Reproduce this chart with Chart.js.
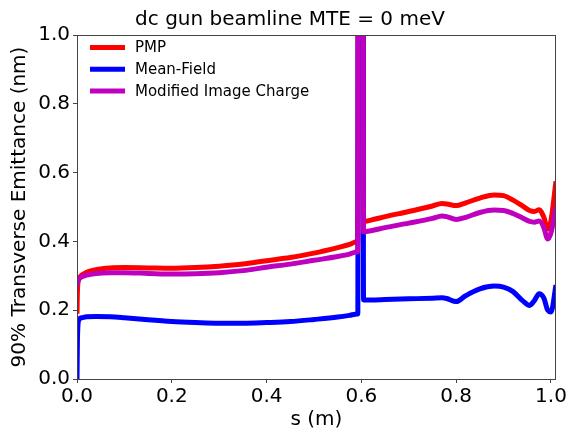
<!DOCTYPE html>
<html>
<head>
<meta charset="utf-8">
<script src="https://cdn.jsdelivr.net/npm/chart.js@4.4.1/dist/chart.umd.min.js"></script>
<style>
  html, body { margin: 0; padding: 0; background: #fff; }
  #wrap { width: 569px; height: 434px; position: relative; }
</style>
</head>
<body>
<div id="wrap"><canvas id="emitChart"></canvas></div>
<script>
// ── Data (s in m, emittance in nm) ──
const S_POS = [0, 0.001, 0.004, 0.01, 0.02, 0.04, 0.07, 0.1, 0.15, 0.2, 0.25, 0.3, 0.35, 0.4, 0.45,
  0.5, 0.55, 0.575, 0.5915, 0.5925, 0.5935, 0.6035, 0.6045, 0.6055, 0.62, 0.65, 0.7, 0.75, 0.77, 0.78,
  0.8, 0.82, 0.85, 0.88, 0.9, 0.92, 0.94, 0.955, 0.965, 0.975, 0.985, 0.993, 1.0, 1.0105];

const PMP = [0.19, 0.26, 0.29, 0.302, 0.31, 0.318, 0.323, 0.324, 0.323, 0.322, 0.324, 0.328, 0.334, 0.344, 0.353,
  0.366, 0.382, 0.391, 0.400, 0.400, 1.6, 1.6, 0.458, 0.458, 0.462, 0.472, 0.487, 0.503, 0.510, 0.509,
  0.504, 0.512, 0.526, 0.535, 0.533, 0.520, 0.503, 0.490, 0.487, 0.492, 0.470, 0.436, 0.460, 0.575];

const MEAN_FIELD = [0.0, 0.12, 0.172, 0.178, 0.181, 0.182, 0.181, 0.178, 0.172, 0.167, 0.164, 0.162, 0.162, 0.164, 0.167,
  0.173, 0.180, 0.185, 0.189, 0.189, 1.6, 1.6, 0.230, 0.230, 0.230, 0.231, 0.233, 0.235, 0.236, 0.234,
  0.225, 0.242, 0.262, 0.270, 0.267, 0.254, 0.228, 0.214, 0.228, 0.248, 0.235, 0.200, 0.195, 0.273];

const MOD_IMAGE = [0.27, 0.28, 0.29, 0.297, 0.302, 0.307, 0.309, 0.309, 0.307, 0.305, 0.306, 0.309, 0.315, 0.325, 0.334,
  0.345, 0.356, 0.363, 0.370, 0.370, 1.6, 1.6, 0.428, 0.428, 0.431, 0.440, 0.453, 0.467, 0.474, 0.472,
  0.464, 0.470, 0.484, 0.491, 0.490, 0.481, 0.468, 0.458, 0.456, 0.459, 0.440, 0.407, 0.425, 0.500];

const X_TICKS = [0.0, 0.2, 0.4, 0.6, 0.8, 1.0];
const Y_TICKS = [0.0, 0.2, 0.4, 0.6, 0.8, 1.0];
const TITLE = "dc gun beamline MTE = 0 meV";

const FONT = "'DejaVu Sans', sans-serif";

function pts(ys) { return S_POS.map((s, i) => ({ x: s, y: ys[i] })); }

function line(label, ys, color, order) {
  return {
    label, data: pts(ys), borderColor: color, backgroundColor: color,
    borderWidth: 5, pointRadius: 0, fill: false, clip: 0, order,
    cubicInterpolationMode: "monotone", borderJoinStyle: "round"
  };
}

// matplotlib-ish frame, title over the axes and in-axes legend
const frameLegend = {
  id: "frameLegend",
  afterDraw(chart) {
    const { ctx, chartArea: a } = chart;
    ctx.save();
    ctx.strokeStyle = "#444";
    ctx.lineWidth = 1;
    ctx.strokeRect(Math.round(a.left) + 0.5, Math.round(a.top) + 0.5,
                   Math.round(a.right - a.left) - 1, Math.round(a.bottom - a.top));
    // title
    ctx.font = "20px " + FONT;
    ctx.fillStyle = "#000";
    ctx.textAlign = "center";
    ctx.textBaseline = "alphabetic";
    ctx.fillText(TITLE, 290, 25);
    // legend
    ctx.font = "15px " + FONT;
    ctx.textAlign = "left";
    ctx.textBaseline = "middle";
    chart.data.datasets.forEach((ds, i) => {
      const y = 47.5 + i * 21.7;
      ctx.strokeStyle = ds.borderColor;
      ctx.lineWidth = 5;
      ctx.beginPath(); ctx.moveTo(90, y); ctx.lineTo(125, y); ctx.stroke();
      ctx.fillText(ds.label, 135, y + 1);
    });
    ctx.restore();
  }
};

new Chart(document.getElementById("emitChart"), {
  type: "line",
  data: { datasets: [
    line("PMP", PMP, "#ff0000", 3),
    line("Mean-Field", MEAN_FIELD, "#0000ff", 2),
    line("Modified Image Charge", MOD_IMAGE, "#bf00bf", 1)
  ]},
  options: {
    responsive: true, maintainAspectRatio: false, animation: false,
    layout: { padding: { left: 0, right: 12, top: 35, bottom: 0 } },
    plugins: {
      legend: { display: false },
      tooltip: { enabled: false },
      title: { display: false }
    },
    scales: {
      x: {
        type: "linear", min: 0, max: 1.0105,
        afterBuildTicks: s => { s.ticks = X_TICKS.map(v => ({ value: v })); },
        afterFit: s => { s.height = 55; },
        ticks: { color: "#000", padding: 2, maxRotation: 0, font: { family: FONT, size: 20 },
                 callback: v => Number(v).toFixed(1) },
        grid: { display: true, drawOnChartArea: false, drawTicks: true, tickLength: 4, color: "#444" },
        border: { display: false },
        title: { display: true, text: "s (m)", color: "#000", padding: { top: 0, bottom: 2 },
                 font: { family: FONT, size: 20, lineHeight: 1.2 } }
      },
      y: {
        min: 0, max: 1.0,
        afterBuildTicks: s => { s.ticks = Y_TICKS.map(v => ({ value: v })); },
        afterFit: s => { s.width = 77; },
        ticks: { color: "#000", padding: 3, font: { family: FONT, size: 20 },
                 callback: v => Number(v).toFixed(1) },
        grid: { display: true, drawOnChartArea: false, drawTicks: true, tickLength: 4, color: "#444" },
        border: { display: false },
        title: { display: true, text: "90% Transverse Emittance (nm)", color: "#000",
                 padding: { top: 8, bottom: 0 }, font: { family: FONT, size: 20, lineHeight: 1.2 } }
      }
    }
  },
  plugins: [frameLegend]
});
</script>
</body>
</html>
